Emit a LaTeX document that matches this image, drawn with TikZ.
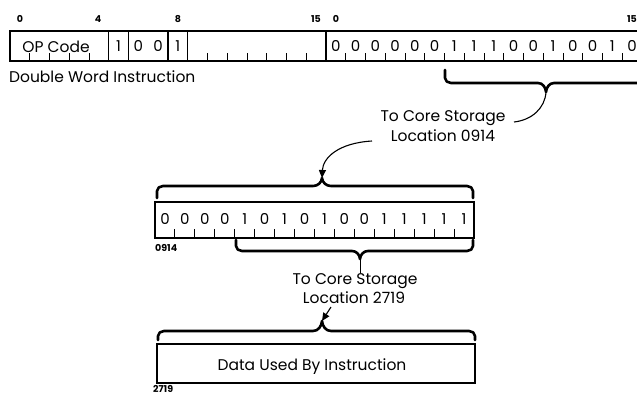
\documentclass[tikz,border=0pt]{standalone}
\usepackage{fontspec}
\setmainfont{Poppins}
\usetikzlibrary{arrows.meta}
\begin{document}
\begin{tikzpicture}[x=1pt,y=-1pt,
  wordbox/.style={draw, line width=1.3pt},
  tickline/.style={line width=0.9pt},
  bracepath/.style={line width=2.6pt, line cap=round, line join=round},
  bitlabel/.style={font=\fontsize{9.5}{10}\selectfont\bfseries, inner sep=0},
  bitdigit/.style={font=\fontsize{15}{16}\selectfont, inner sep=0},
  caption/.style={font=\fontsize{15.5}{17}\selectfont, inner sep=0},
  pointer/.style={line width=1.1pt},
  tiphead/.style={-{Triangle[length=8pt,width=7pt]}},
]
\useasboundingbox (0,0) rectangle (637,394);
\clip (0,0) rectangle (637,394);
% ---------- word 1 ----------
\draw[wordbox] (10,31) rectangle (326,61);
\foreach \b in {5,6,8,9} \draw[wordbox] ({10+\b*19.75},31) -- ({10+\b*19.75},61);
\foreach \b in {1,2,3,4,10,11,12,13,14,15} \draw[tickline] ({10+\b*19.75},53) -- ({10+\b*19.75},61);
\node[caption] (opc) at (56,47) {OP Code};
\node[bitdigit] (b5) at ({10+5.5*19.75},46) {1};
\node[bitdigit] (b6) at ({10+6.5*19.75},46) {0};
\node[bitdigit] (b7) at ({10+7.5*19.75},46) {0};
\node[bitdigit] (b8) at ({10+8.5*19.75},46) {1};
\node[bitlabel] (l0) at (20,19) {0};
\node[bitlabel] (l4) at (98,19) {4};
\node[bitlabel] (l8) at (178,19) {8};
\node[bitlabel] (l15) at (316,19) {15};
\node[caption, anchor=west] (dwi) at (9,77) {Double Word Instruction};
% ---------- word 2 ----------
\draw[wordbox] (650,31) -- (326,31) -- (326,61) -- (650,61);
\foreach \b in {1,...,15} \draw[tickline] ({326+\b*19.75},53) -- ({326+\b*19.75},61);
\foreach \d [count=\i from 0] in {0,0,0,0,0,0,1,1,1,0,0,1,0,0,1,0}
  \node[bitdigit] (w\i) at ({326+(\i+0.5)*19.75},46) {\d};
\node[bitlabel] (m0) at (336,19) {0};
\node[bitlabel] (m15) at (632,19) {15};
% brace under bits 6..15 of word 2
\coordinate (t1) at (546,92);
\draw[bracepath] (445,70) -- (445,78) to[out=-90,in=180] (451,83) -- (538,83) to[out=0,in=95] (t1)
  to[out=85,in=180] (554,83) -- (640,83);
\node[caption] (cs1) at (443,118) {To Core Storage};
\node[caption] (lo1) at (443,136) {Location 0914};
\coordinate (c1e) at (514,122);
\draw[pointer] (t1) .. controls (545,108) and (532,120) .. (c1e);
% ---------- arrow to middle word ----------
\coordinate (t2) at (322,178);
\coordinate (a2s) at (372,141);
\draw[pointer,tiphead] (a2s) .. controls (338,143) and (323,158) .. (t2);
% brace over middle word
\draw[bracepath] (157,198) -- (157,191) to[out=90,in=180] (163,186) -- (313,186) to[out=0,in=-95] (t2)
  to[out=-85,in=180] (331,186) -- (467,186) to[out=0,in=90] (473,191) -- (473,198);
% ---------- middle word ----------
\draw[wordbox] (155,202) rectangle (474,238);
\foreach \b in {1,...,15} \draw[tickline] ({155+\b*19.94},229) -- ({155+\b*19.94},238);
\foreach \d [count=\i from 0] in {0,0,0,0,1,0,1,0,1,0,0,1,1,1,1,1}
  \node[bitdigit] (v\i) at ({155+(\i+0.5)*19.94},219) {\d};
\node[bitlabel, anchor=west] (a914) at (155,248) {0914};
% brace under bits 4..15 of middle word
\coordinate (t3) at (360,259);
\draw[bracepath] (236,240) -- (236,246) to[out=-90,in=180] (242,251) -- (352,251) to[out=0,in=95] (t3)
  to[out=85,in=180] (368,251) -- (467,251) to[out=0,in=-90] (473,246) -- (473,240);
\coordinate (t3e) at (360,273);
\draw[tickline] (t3) -- (t3e);
\node[caption] (cs2) at (355,281) {To Core Storage};
\node[caption] (lo2) at (354,298) {Location 2719};
% ---------- arrow to data box ----------
\coordinate (t4) at (322,321);
\coordinate (a4s) at (331,307);
\draw[pointer,tiphead] (a4s) -- (t4);
\draw[bracepath] (158,340) -- (158,336) to[out=90,in=180] (164,331) -- (313,331) to[out=0,in=-95] (t4)
  to[out=-85,in=180] (331,331) -- (469,331) to[out=0,in=90] (475,336) -- (475,340);
% ---------- data box ----------
\draw[wordbox] (157,344) rectangle (475,383);
\node[caption] (dat) at (312,367) {Data Used By Instruction};
\node[bitlabel, anchor=west] (a2719) at (153,388.5) {2719};
\end{tikzpicture}
\end{document}
